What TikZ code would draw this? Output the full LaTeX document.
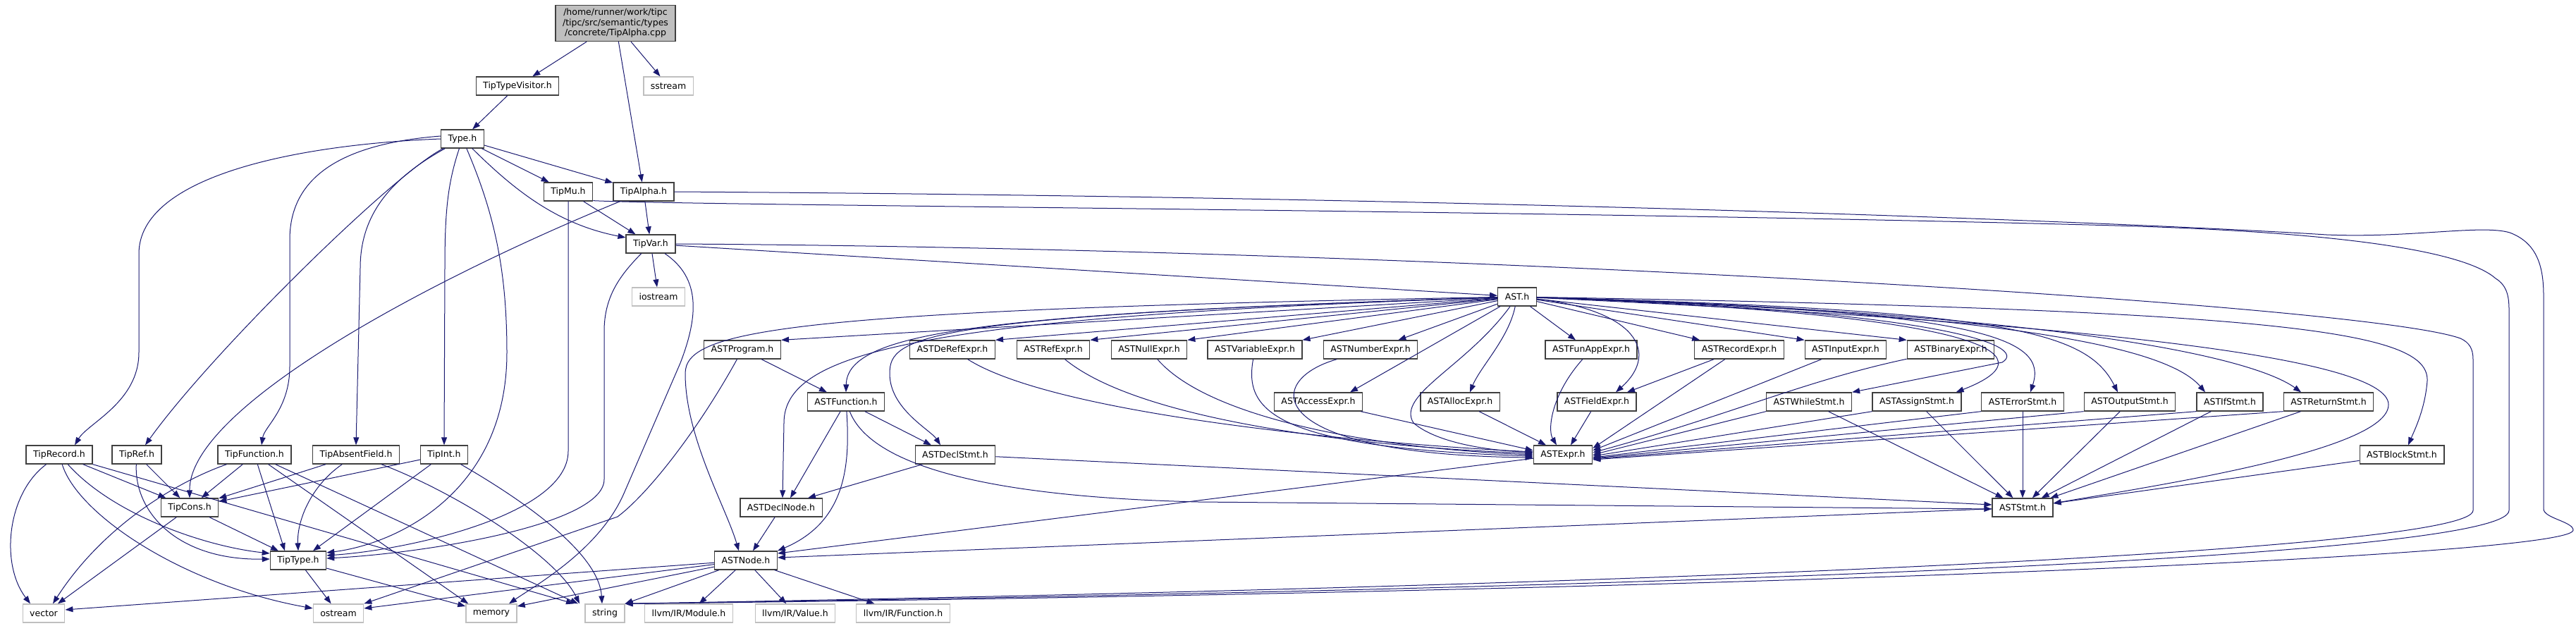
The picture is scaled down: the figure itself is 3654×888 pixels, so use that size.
\documentclass[tikz,border=0pt]{standalone}
\usepackage{fontspec}
\newfontfamily\dxfont{DejaVu Sans}
\usetikzlibrary{arrows.meta}
\definecolor{edgeblue}{RGB}{25,25,112}
\definecolor{boxgray}{RGB}{64,64,64}
\definecolor{sysgray}{RGB}{191,191,191}
\tikzset{
  % header boxes
  hdr/.style     = {draw=boxgray, line width=1.3pt, fill=white, minimum height=26pt,
                    inner xsep=10pt, inner ysep=0pt, font=\dxfont\fontsize{12.5}{14.5}\selectfont},
  syshdr/.style  = {hdr, draw=sysgray},
  rootbox/.style = {hdr, fill=sysgray, align=center, inner ysep=5pt},
  % include edges
  dep/.style     = {draw=edgeblue, line width=1pt, -{Triangle[length=11pt,width=8pt]}},
}

\begin{document}
\begin{tikzpicture}[x=1pt,y=-1pt]
  \useasboundingbox (0,0) rectangle (3654,888);
  % top part
  \node[rootbox] (root) at (873,33) {/home/runner/work/tipc\\/tipc/src/semantic/types\\/concrete/TipAlpha.cpp};
  \node[hdr] (tvis) at (734,122) {TipTypeVisitor.h};
  \node[syshdr] (sstream) at (948,122) {sstream};
  \node[hdr] (typeh) at (656,197) {Type.h};
  \node[hdr] (tmu) at (806,272) {TipMu.h};
  \node[hdr] (talpha) at (913,272) {TipAlpha.h};
  \node[hdr] (tvar) at (923,346) {TipVar.h};
  \node[syshdr] (iostream) at (934,421) {iostream};
  % tip types
  \node[hdr] (trecord) at (84,645) {TipRecord.h};
  \node[hdr] (tref) at (194,645) {TipRef.h};
  \node[hdr] (tfunc) at (361,645) {TipFunction.h};
  \node[hdr] (tabs) at (505,645) {TipAbsentField.h};
  \node[hdr] (tint) at (630,645) {TipInt.h};
  \node[hdr] (tcons) at (269,720) {TipCons.h};
  \node[hdr] (ttype) at (423,795) {TipType.h};
  % system headers
  \node[syshdr] (vector) at (62,870) {vector};
  \node[syshdr] (ostream) at (480,870) {ostream};
  \node[syshdr] (memory) at (697,870) {memory};
  \node[syshdr] (string) at (858,870) {string};
  \node[syshdr] (module) at (977,870) {llvm/IR/Module.h};
  \node[syshdr] (value) at (1128,870) {llvm/IR/Value.h};
  \node[syshdr] (function) at (1281,870) {llvm/IR/Function.h};
  % ast headers
  \node[hdr] (ast) at (2152,421) {AST.h};
  \node[hdr] (aprog) at (1053,496) {ASTProgram.h};
  \node[hdr] (afunc) at (1200,570) {ASTFunction.h};
  \node[hdr] (adeclnode) at (1108,720) {ASTDeclNode.h};
  \node[hdr] (anode) at (1058,795) {ASTNode.h};
  \node[hdr] (adeclstmt) at (1355,645) {ASTDeclStmt.h};
  \node[hdr] (aderef) at (1351,496) {ASTDeRefExpr.h};
  \node[hdr] (aref) at (1494,496) {ASTRefExpr.h};
  \node[hdr] (anull) at (1630,496) {ASTNullExpr.h};
  \node[hdr] (avar) at (1780,496) {ASTVariableExpr.h};
  \node[hdr] (anum) at (1944,496) {ASTNumberExpr.h};
  \node[hdr] (afunapp) at (2257,496) {ASTFunAppExpr.h};
  \node[hdr] (arecord) at (2467,496) {ASTRecordExpr.h};
  \node[hdr] (ainput) at (2618,496) {ASTInputExpr.h};
  \node[hdr] (abinary) at (2767,496) {ASTBinaryExpr.h};
  \node[hdr] (aaccess) at (1870,570) {ASTAccessExpr.h};
  \node[hdr] (aalloc) at (2071,570) {ASTAllocExpr.h};
  \node[hdr] (afield) at (2265,570) {ASTFieldExpr.h};
  \node[hdr] (awhile) at (2566,570) {ASTWhileStmt.h};
  \node[hdr] (aassign) at (2719,570) {ASTAssignStmt.h};
  \node[hdr] (aerror) at (2869,570) {ASTErrorStmt.h};
  \node[hdr] (aoutput) at (3021,570) {ASTOutputStmt.h};
  \node[hdr] (aif) at (3163,570) {ASTIfStmt.h};
  \node[hdr] (areturn) at (3303,570) {ASTReturnStmt.h};
  \node[hdr] (aexpr) at (2217,645) {ASTExpr.h};
  \node[hdr] (ablock) at (3407,645) {ASTBlockStmt.h};
  \node[hdr] (astmt) at (2869,720) {ASTStmt.h};

  % root and Type.h
  \draw[dep] (root) -- (tvis);
  \draw[dep] (root) -- (talpha);
  \draw[dep] (root) -- (sstream);
  \draw[dep] (tvis) -- (typeh);
  \draw[dep] (typeh.west) .. controls (420,205) and (197,250) .. (197,360) -- (197,500) .. controls (197,570) and (125,600) .. ([xshift=22pt]trecord.north);
  \draw[dep] (typeh) .. controls (560,245) and (300,500) .. ([xshift=12pt]tref.north);
  \draw[dep] ([yshift=4pt]typeh.west) .. controls (470,205) and (411,260) .. (411,340) -- (411,520) .. controls (411,580) and (375,605) .. ([xshift=10pt]tfunc.north);
  \draw[dep] (typeh) .. controls (560,250) and (511,300) .. (511,380) -- (tabs.north);
  \draw[dep] (typeh) .. controls (635,260) and (631,300) .. (631,380) -- (tint.north);
  \draw[dep] (typeh) .. controls (700,300) and (719,380) .. (719,500) .. controls (719,700) and (560,772) .. ([yshift=11pt]ttype.east);
  \draw[dep] (typeh) -- (tmu);
  \draw[dep] (typeh) -- (talpha);
  \draw[dep] (typeh) .. controls (730,270) and (790,318) .. ([yshift=9pt]tvar.west);

  % TipMu.h, TipAlpha.h, TipVar.h
  \draw[dep] (tmu) -- (tvar);
  \draw[dep] (tmu) -- (806,640) .. controls (806,730) and (580,780) .. ([yshift=7pt]ttype.east);
  \draw[dep] ([yshift=1pt]tmu.south east) .. controls (1000,292) and (2200,298) .. (3000,320) .. controls (3350,330) and (3500,360) .. (3540,395) .. controls (3556,405) and (3559,420) .. (3559,440) -- (3559,724) .. controls (3559,790) and (2400,835) .. (string.north east);
  \draw[dep] (talpha) -- (tvar);
  \draw[dep] (talpha) .. controls (600,400) and (268,580) .. (tcons.north);
  \draw[dep] (talpha.east) .. controls (2200,280) and (3100,320) .. (3300,333) .. controls (3420,338) and (3520,318) .. (3560,330) .. controls (3600,345) and (3608,380) .. (3608,420) -- (3608,722) .. controls (3608,735) and (3650,740) .. (3650,752) .. controls (3650,790) and (2400,840) .. (string.north east);
  \draw[dep] (tvar) -- (iostream);
  \draw[dep] (tvar) .. controls (880,390) and (857,420) .. (857,470) -- (857,680) .. controls (857,745) and (600,785) .. ([yshift=3pt]ttype.east);
  \draw[dep] (tvar) .. controls (995,395) and (990,450) .. (965,515) -- (885,700) .. controls (850,780) and (760,830) .. ([xshift=25pt]memory.north);
  \draw[dep] (tvar) -- (ast);
  \draw[dep] (tvar.east) .. controls (2000,352) and (3350,430) .. (3490,480) .. controls (3503,486) and (3508,495) .. (3508,510) -- (3508,724) .. controls (3508,780) and (2400,830) .. (string.north east);

  % tip types
  \draw[dep] (trecord) .. controls (10,700) and (0,800) .. ([xshift=-19pt]vector.north);
  \draw[dep] (trecord) .. controls (110,730) and (260,830) .. ([yshift=7pt]ostream.west);
  \draw[dep] (trecord) .. controls (160,730) and (290,775) .. ([yshift=10pt]ttype.west);
  \draw[dep] (trecord) -- (tcons);
  \draw[dep] (trecord) -- ([xshift=-44pt]string.north);
  \draw[dep] (tref) -- (tcons);
  \draw[dep] (tref) .. controls (190,725) and (250,795) .. ([yshift=2pt]ttype.west);
  \draw[dep] (tfunc) .. controls (260,680) and (150,740) .. ([xshift=13pt]vector.north);
  \draw[dep] (tfunc) -- (tcons);
  \draw[dep] (tfunc) -- ([xshift=-19pt]ttype.north);
  \draw[dep] (tfunc) -- ([xshift=4pt]memory.north west);
  \draw[dep] (tfunc) -- ([xshift=-38pt]string.north);
  \draw[dep] (tabs) -- (tcons);
  \draw[dep] (tabs) .. controls (440,690) and (421,740) .. (ttype.north);
  \draw[dep] (tabs) .. controls (650,700) and (790,790) .. ([xshift=-36pt]string.north);
  \draw[dep] (tint) -- (tcons);
  \draw[dep] (tint) -- ([xshift=21pt]ttype.north);
  \draw[dep] (tint) .. controls (760,720) and (850,790) .. ([xshift=-4pt]string.north);
  \draw[dep] (tcons) -- ([xshift=20pt]vector.north);
  \draw[dep] (tcons) -- (ttype);
  \draw[dep] (ttype) -- (ostream);
  \draw[dep] (ttype) -- ([yshift=10pt]memory.west);

  % AST.h
  \draw[dep] (ast) -- (aprog.north east);
  \draw[dep] (ast) .. controls (1400,445) and (1202,470) .. (afunc.north);
  \draw[dep] (ast) .. controls (1300,450) and (1112,500) .. (1112,600) -- ([xshift=2pt]adeclnode.north);
  \draw[dep] (ast) .. controls (1100,440) and (972,470) .. (972,530) .. controls (972,620) and (1030,720) .. ([xshift=-10pt]anode.north);
  \draw[dep] (ast) .. controls (1300,448) and (1262,478) .. (1262,530) .. controls (1262,580) and (1320,610) .. ([xshift=-21pt]adeclstmt.north);
  \draw[dep] (ast) -- (aderef.north east);
  \draw[dep] (ast) -- (aref.north east);
  \draw[dep] (ast) -- (anull.north east);
  \draw[dep] (ast) -- (avar.north east);
  \draw[dep] (ast) -- ([xshift=-28pt]anum.north east);
  \draw[dep] (ast) -- ([xshift=45pt]aaccess.north);
  \draw[dep] (ast) .. controls (2140,480) and (2100,520) .. ([xshift=14pt]aalloc.north);
  \draw[dep] (ast) .. controls (2080,520) and (1980,560) .. (2005,600) .. controls (2040,630) and (2120,640) .. ([yshift=4pt]aexpr.west);
  \draw[dep] (ast) -- ([xshift=-22pt]afunapp.north);
  \draw[dep] (ast) .. controls (2320,440) and (2355,500) .. ([xshift=27pt]afield.north);
  \draw[dep] (ast) -- ([xshift=8pt]arecord.north west);
  \draw[dep] (ast) -- (ainput.north west);
  \draw[dep] (ast) -- (abinary.north west);
  \draw[dep] (ast) .. controls (2750,440) and (2880,490) .. (2840,514) -- (awhile.north east);
  \draw[dep] (ast) .. controls (2800,445) and (2920,500) .. ([xshift=-8pt]aassign.north east);
  \draw[dep] (ast) .. controls (2820,440) and (2905,480) .. ([xshift=11pt]aerror.north);
  \draw[dep] (ast) .. controls (2850,440) and (2960,470) .. ([xshift=-17pt]aoutput.north);
  \draw[dep] (ast) .. controls (2900,445) and (3080,500) .. ([xshift=-35pt]aif.north);
  \draw[dep] (ast) .. controls (2950,445) and (3200,510) .. ([xshift=-39pt]areturn.north);
  \draw[dep] (ast) .. controls (3250,440) and (3445,470) .. (3443,540) .. controls (3440,580) and (3425,610) .. ([xshift=9pt]ablock.north);
  \draw[dep] (ast) .. controls (3000,460) and (3388,510) .. (3388,574) .. controls (3388,640) and (3050,690) .. ([yshift=6pt]astmt.east);

  % expressions
  \draw[dep] (aderef) .. controls (1500,590) and (1950,630) .. ([yshift=4pt]aexpr.west);
  \draw[dep] (aref) .. controls (1620,600) and (1950,635) .. ([yshift=2pt]aexpr.west);
  \draw[dep] (anull) .. controls (1720,600) and (1980,638) .. (aexpr.west);
  \draw[dep] (avar) .. controls (1765,580) and (1800,635) .. ([yshift=-2pt]aexpr.west);
  \draw[dep] (anum) .. controls (1790,540) and (1790,645) .. ([yshift=-4pt]aexpr.west);
  \draw[dep] (aaccess) -- ([yshift=6pt]aexpr.west);
  \draw[dep] (aalloc) -- ([xshift=-24pt]aexpr.north);
  \draw[dep] (afunapp) .. controls (2200,560) and (2195,610) .. ([xshift=-9pt]aexpr.north);
  \draw[dep] (afield) -- ([xshift=11pt]aexpr.north);
  \draw[dep] (arecord) -- ([xshift=43pt]afield.north);
  \draw[dep] (arecord) -- ([yshift=9pt]aexpr.east);
  \draw[dep] (ainput) -- ([yshift=6pt]aexpr.east);
  \draw[dep] (abinary) .. controls (2560,540) and (2450,590) .. ([yshift=3pt]aexpr.east);

  % statements
  \foreach \s/\d in {awhile/0, aassign/-2, aerror/-4, aoutput/-5, aif/-6, areturn/-7}
    \draw[dep] (\s.south west) -- ([yshift=\d pt]aexpr.east);
  \foreach \s in {awhile, aassign, aerror, aoutput, aif, areturn, ablock}
    \draw[dep] (\s) -- (astmt);
  \draw[dep] (adeclstmt) -- ([yshift=4pt]astmt.west);
  \draw[dep] (afunc) .. controls (1235,660) and (1400,705) .. (1700,712) -- ([yshift=-2pt]astmt.west);

  % program, function, node
  \draw[dep] (aprog) -- (afunc);
  \draw[dep] (aprog) .. controls (990,610) and (920,700) .. (876,733) -- (ostream.north east);
  \draw[dep] (afunc) -- ([xshift=-34pt]adeclstmt.north);
  \draw[dep] (afunc) -- ([xshift=13pt]adeclnode.north);
  \draw[dep] (afunc) .. controls (1206,660) and (1200,740) .. (anode.north east);
  \draw[dep] (adeclstmt) -- ([xshift=38pt]adeclnode.north);
  \draw[dep] (adeclnode) -- ([xshift=10pt]anode.north);
  \draw[dep] (aexpr) -- ([yshift=10pt]anode.east);
  \draw[dep] (astmt) -- ([yshift=4pt]anode.east);
  \draw[dep] (anode) -- ([yshift=5pt]vector.east);
  \draw[dep] (anode) -- ([yshift=7pt]ostream.east);
  \draw[dep] (anode) -- ([yshift=10pt]memory.east);
  \draw[dep] (anode) -- (string.north east);
  \draw[dep] (anode) -- (module);
  \draw[dep] (anode) -- (value);
  \draw[dep] (anode) -- (function);
\end{tikzpicture}
\end{document}
